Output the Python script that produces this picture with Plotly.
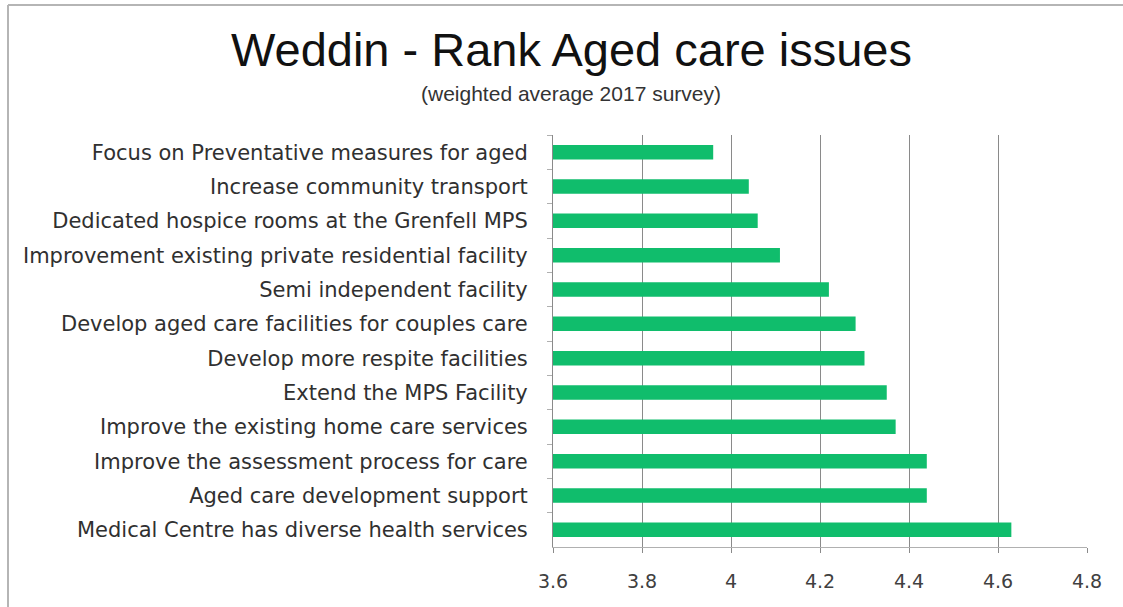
import plotly.graph_objects as go

categories = [
    "Focus on Preventative measures for aged",
    "Increase community transport",
    "Dedicated hospice rooms at the Grenfell MPS",
    "Improvement existing private residential facility",
    "Semi independent facility",
    "Develop aged care facilities for couples care",
    "Develop more respite facilities",
    "Extend the MPS Facility",
    "Improve the existing home care services",
    "Improve the assessment process for care",
    "Aged care development support",
    "Medical Centre has diverse health services",
]
values = [3.96, 4.04, 4.06, 4.11, 4.22, 4.28, 4.30, 4.35, 4.37, 4.44, 4.44, 4.63]
x_ticks = [3.6, 3.8, 4.0, 4.2, 4.4, 4.6, 4.8]
x_tick_labels = ["3.6", "3.8", "4", "4.2", "4.4", "4.6", "4.8"]

W, H = 1123, 607
L, R, T, B = 553, 36, 135, 60
PW, PH = W - L - R, H - T - B


def px(x):
    return (x - L) / PW


def py(y):
    return (H - B - y) / PH


fig = go.Figure(go.Bar(
    x=values, y=categories, orientation="h",
    marker=dict(color="#10BD6C", line=dict(width=0)),
    width=0.42,
))

fig.update_layout(
    width=W, height=H,
    margin=dict(l=L, r=R, t=T, b=B, autoexpand=False),
    paper_bgcolor="white", plot_bgcolor="white",
    showlegend=False,
    font=dict(family="'DejaVu Sans', sans-serif", color="#333333"),
    xaxis=dict(
        range=[3.6, 4.8], tickvals=x_ticks, ticktext=x_tick_labels,
        showgrid=True, gridcolor="#8a8a8a", gridwidth=1,
        showline=True, linecolor="#b0b0b0", linewidth=1,
        ticks="outside", ticklen=5, tickcolor="#8a8a8a",
        tickfont=dict(size=19, color="#404040", family="'DejaVu Sans', sans-serif"),
        ticklabelstandoff=12,
        zeroline=False, fixedrange=True,
    ),
    yaxis=dict(
        autorange="reversed", type="category",
        showline=True, linecolor="#8a8a8a", linewidth=1,
        ticks="outside", ticklen=5, tickcolor="#b0b0b0", tickson="boundaries",
        tickfont=dict(size=21, color="#303030", family="'DejaVu Sans', sans-serif"),
        ticklabelstandoff=20,
        showgrid=False, fixedrange=True,
    ),
    annotations=[
        dict(text="Weddin - Rank Aged care issues", xref="paper", yref="paper",
             x=px(571), y=py(50),
             xanchor="center", yanchor="middle", showarrow=False,
             font=dict(family="Liberation Sans, Arial, sans-serif", size=47, color="#111111")),
        dict(text="(weighted average 2017 survey)", xref="paper", yref="paper",
             x=px(571), y=py(93),
             xanchor="center", yanchor="middle", showarrow=False,
             font=dict(family="Liberation Sans, Arial, sans-serif", size=21, color="#333333")),
    ],
    shapes=[
        dict(type="line", xref="paper", yref="paper",
             x0=px(8), x1=px(W + 10), y0=py(5), y1=py(5),
             line=dict(color="#b5b5b5", width=2)),
        dict(type="line", xref="paper", yref="paper",
             x0=px(8), x1=px(8), y0=py(5), y1=py(H + 10),
             line=dict(color="#b5b5b5", width=2)),
    ],
)

fig.write_html("out.html", config={"displayModeBar": False},
               post_script="document.body.style.margin='0px';document.body.style.overflow='hidden';")
